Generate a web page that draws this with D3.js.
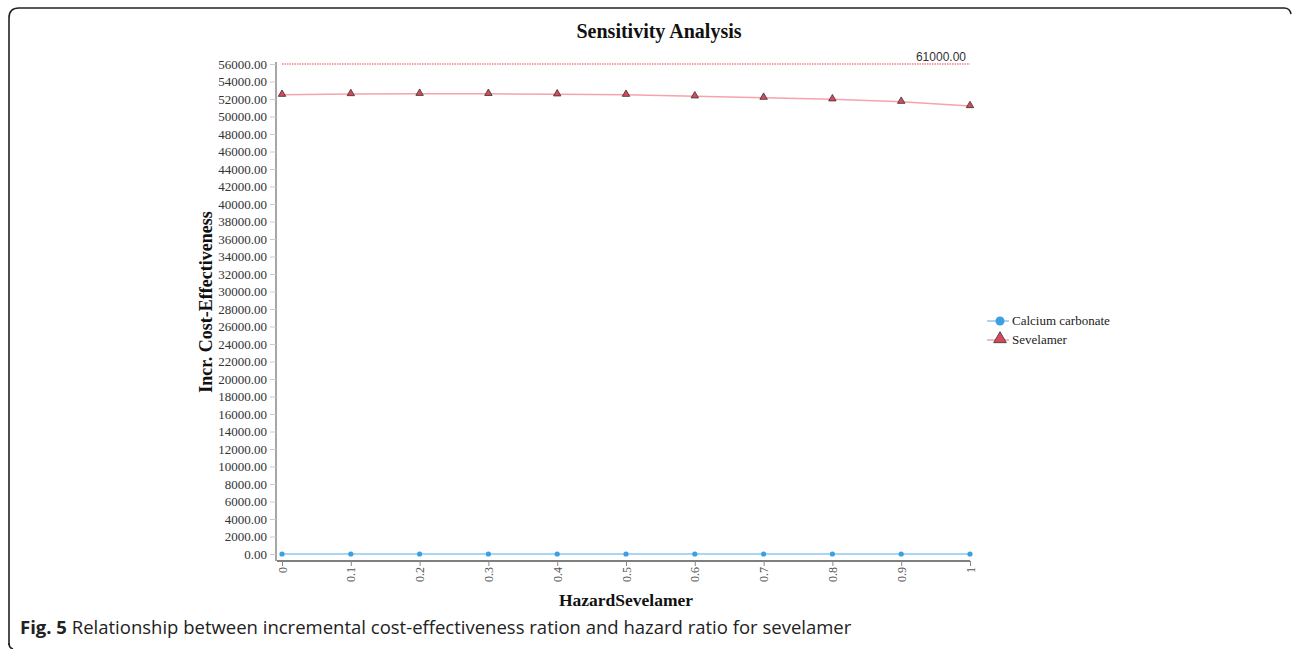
<!DOCTYPE html>
<html>
<head>
<meta charset="utf-8">
<script src="https://cdn.jsdelivr.net/npm/d3@7"></script>
<style>
  body { margin: 0; background: #fff; }
  svg { display: block; }
</style>
</head>
<body>
<div id="chart"></div>
<script>
// hazard ratio values on the x axis
var hazard = [0, 0.1, 0.2, 0.3, 0.4, 0.5, 0.6, 0.7, 0.8, 0.9, 1];
var hazardLabels = ['0', '0.1', '0.2', '0.3', '0.4', '0.5', '0.6', '0.7', '0.8', '0.9', '1'];

// incremental cost-effectiveness per strategy
var calciumValues = [0, 0, 0, 0, 0, 0, 0, 0, 0, 0, 0];
var sevelamerValues = [52490, 52570, 52600, 52590, 52540, 52490, 52310, 52150, 51970, 51690, 51200];

// willingness to pay threshold
var threshold = 61000;

// y ticks every 2000 up to 56000
var yTicks = d3.range(0, 56001, 2000);

var seriesNames = ['Calcium carbonate', 'Sevelamer'];

var W = 1292, H = 649;

var svg = d3.select('#chart').append('svg')
    .attr('width', W)
    .attr('height', H);

// figure frame (rounded, open at right and bottom)
svg.append('path')
    .attr('d', 'M9,645 L9,18 Q9,8 19,8 L1284,8 Q1290,8 1291,14')
    .attr('fill', 'none')
    .attr('stroke', '#222')
    .attr('stroke-width', 1.6);
svg.append('path')
    .attr('d', 'M9,643 Q9,648 13,649')
    .attr('fill', 'none')
    .attr('stroke', '#222')
    .attr('stroke-width', 1.6);

var x = d3.scaleLinear().domain([0, 1]).range([282, 970]);
var y = d3.scaleLinear().domain([0, 56000]).range([554, 64]);

// title
svg.append('text')
    .attr('x', 659).attr('y', 38)
    .attr('text-anchor', 'middle')
    .style('font', 'bold 20px "Liberation Serif", serif')
    .attr('fill', '#111')
    .text('Sensitivity Analysis');

// y axis
var yAxis = svg.append('g')
    .attr('transform', 'translate(276,0)')
    .call(d3.axisLeft(y).tickValues(yTicks).tickSize(6).tickFormat(d3.format('.2f')));
yAxis.select('.domain').attr('stroke', '#888').attr('stroke-width', 1.5)
    .attr('d', 'M0,' + (y(56000) - 2) + 'V' + 561);
yAxis.selectAll('.tick line').attr('stroke', '#ccc');
yAxis.selectAll('.tick text')
    .attr('fill', '#333')
    .attr('x', -9)
    .style('font', '13px "Liberation Serif", serif');

// x axis
var xAxis = svg.append('g')
    .attr('transform', 'translate(0,561)')
    .call(d3.axisBottom(x).tickValues(hazard).tickSize(5)
        .tickFormat(function(d, i){ return hazardLabels[i]; }));
xAxis.select('.domain').attr('stroke', '#555').attr('stroke-width', 1.3)
    .attr('d', 'M277,0H970');
xAxis.selectAll('.tick line').attr('stroke', '#888');
xAxis.selectAll('.tick text')
    .attr('fill', '#555')
    .attr('text-anchor', 'end')
    .attr('dy', null)
    .attr('y', 0)
    .attr('transform', 'translate(4,6) rotate(-90)')
    .style('font', '12px "Liberation Serif", serif');

// axis titles
svg.append('text')
    .attr('transform', 'translate(212,302) rotate(-90)')
    .attr('text-anchor', 'middle')
    .style('font', 'bold 18px "Liberation Serif", serif')
    .attr('fill', '#111')
    .text('Incr. Cost-Effectiveness');

svg.append('text')
    .attr('x', 626).attr('y', 606)
    .attr('text-anchor', 'middle')
    .style('font', 'bold 17.5px "Liberation Serif", serif')
    .attr('fill', '#111')
    .text('HazardSevelamer');

// threshold line, clamped to the top of the axis
var thrY = y(Math.min(threshold, y.domain()[1]));
svg.append('line')
    .attr('x1', x(0)).attr('x2', x(1))
    .attr('y1', thrY).attr('y2', thrY)
    .attr('stroke', '#f0404a')
    .attr('stroke-width', 1.2)
    .attr('stroke-dasharray', '1.5,1');
svg.append('text')
    .attr('x', x(1) - 4).attr('y', thrY - 3)
    .attr('text-anchor', 'end')
    .style('font', '12px "Liberation Sans", sans-serif')
    .attr('fill', '#333')
    .text(d3.format('.2f')(threshold));

var line = d3.line()
    .x(function(d, i){ return x(hazard[i]); })
    .y(function(d){ return y(d); });

var tri = d3.symbol().type(d3.symbolTriangle).size(24);

// calcium carbonate
svg.append('path')
    .datum(calciumValues)
    .attr('d', line)
    .attr('fill', 'none')
    .attr('stroke', '#8cc8ee')
    .attr('stroke-width', 1.5);
svg.append('g').selectAll('circle')
    .data(calciumValues)
    .enter().append('circle')
        .attr('cx', function(d, i){ return x(hazard[i]); })
        .attr('cy', function(d){ return y(d); })
        .attr('r', 2.6)
        .attr('fill', '#3d9ee0');

// sevelamer
svg.append('path')
    .datum(sevelamerValues)
    .attr('d', line)
    .attr('fill', 'none')
    .attr('stroke', '#f6a3ab')
    .attr('stroke-width', 1.5);
svg.append('g').selectAll('path')
    .data(sevelamerValues)
    .enter().append('path')
        .attr('d', tri)
        .attr('transform', function(d, i){ return 'translate(' + x(hazard[i]) + ',' + (y(d) - 0.5) + ')'; })
        .attr('fill', '#d9485a')
        .attr('stroke', '#333')
        .attr('stroke-width', 0.8);

// legend
var legend = svg.append('g').attr('transform', 'translate(987,321)');
seriesNames.forEach(function(name, i){
    var g = legend.append('g').attr('transform', 'translate(0,' + (i * 19) + ')');
    g.append('line')
        .attr('x1', 0).attr('x2', 22)
        .attr('stroke', i == 0 ? '#8cc8ee' : '#f6a3ab')
        .attr('stroke-width', 1.5);
    if(i == 0){
        g.append('circle').attr('cx', 13).attr('r', 4.5).attr('fill', '#3d9ee0');
    } else{
        g.append('path')
            .attr('d', d3.symbol().type(d3.symbolTriangle).size(70))
            .attr('transform', 'translate(13,-1)')
            .attr('fill', '#d9485a')
            .attr('stroke', '#333')
            .attr('stroke-width', 0.8);
    }
    g.append('text')
        .attr('x', 25).attr('y', 4)
        .style('font', '13px "Liberation Serif", serif')
        .attr('fill', '#222')
        .text(name);
});

// caption
var cap = svg.append('text')
    .attr('x', 20).attr('y', 634)
    .style('font', '18.5px "Open Sans", sans-serif')
    .attr('fill', '#222');
cap.append('tspan').style('font-weight', 'bold').text('Fig. 5');
cap.append('tspan').text(' Relationship between incremental cost-effectiveness ration and hazard ratio for sevelamer');
</script>
</body>
</html>
